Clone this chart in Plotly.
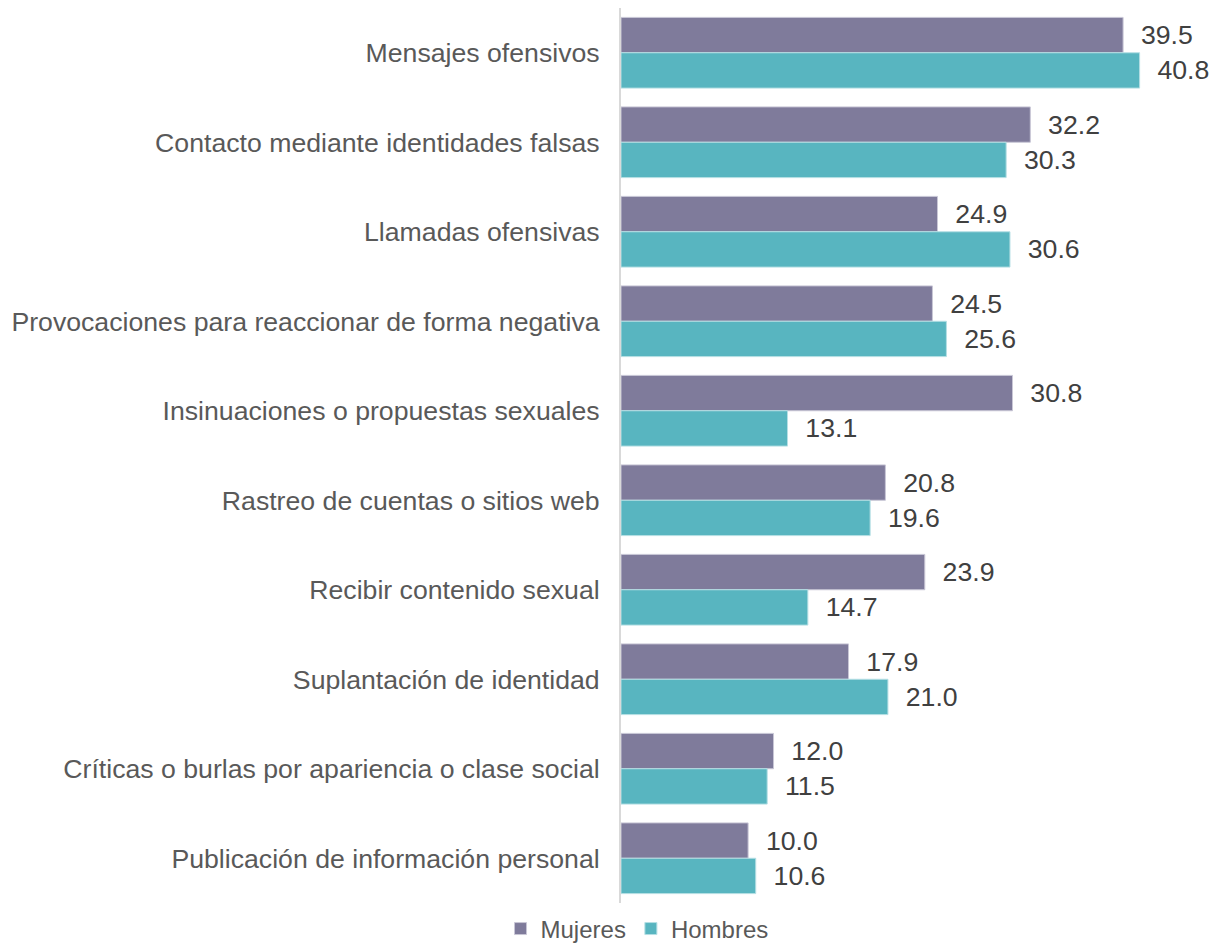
import plotly.graph_objects as go

categories = [
    "Mensajes ofensivos",
    "Contacto mediante identidades falsas",
    "Llamadas ofensivas",
    "Provocaciones para reaccionar de forma negativa",
    "Insinuaciones o propuestas sexuales",
    "Rastreo de cuentas o sitios web",
    "Recibir contenido sexual",
    "Suplantación de identidad",
    "Críticas o burlas por apariencia o clase social",
    "Publicación de información personal",
]
mujeres = [39.5, 32.2, 24.9, 24.5, 30.8, 20.8, 23.9, 17.9, 12.0, 10.0]
hombres = [40.8, 30.3, 30.6, 25.6, 13.1, 19.6, 14.7, 21.0, 11.5, 10.6]

FONT = "Liberation Sans, Arial, sans-serif"
TXT = "#404040"
LBL = "#595959"

fig = go.Figure()
fig.add_trace(go.Bar(
    y=categories, x=mujeres, name="Mujeres", orientation="h",
    marker=dict(color="#7F7B9B", line=dict(color="#C9C7D6", width=1)),
    texttemplate="  %{x:.1f}", textposition="outside", constraintext="none",
    textfont=dict(family=FONT, size=26.67, color=TXT), cliponaxis=False,
))
fig.add_trace(go.Bar(
    y=categories, x=hombres, name="Hombres", orientation="h",
    marker=dict(color="#58B5C0", line=dict(color="#B5DFE4", width=1)),
    texttemplate="  %{x:.1f}", textposition="outside", constraintext="none",
    textfont=dict(family=FONT, size=26.67, color=TXT), cliponaxis=False,
))

# page body has an 8px margin, so the figure is sized to fit the window
fig.update_layout(
    width=1210, height=937,
    margin=dict(l=613, r=25, t=0, b=42, autoexpand=False),
    paper_bgcolor="white", plot_bgcolor="white",
    barmode="group", bargap=0.21, bargroupgap=0.0,
    font=dict(family=FONT, size=26.67, color=TXT),
    showlegend=True,
    legend=dict(
        orientation="h", x=0.028, xanchor="center", y=-0.029, yanchor="middle",
        font=dict(family=FONT, size=24, color=LBL),
        traceorder="normal", itemwidth=30,
    ),
    xaxis=dict(range=[0, 45], showgrid=False, showticklabels=False,
               zeroline=False, showline=False, automargin=False),
    yaxis=dict(autorange="reversed", showgrid=False, zeroline=False,
               showline=True, linecolor="#D9D9D9", linewidth=2,
               ticks="", ticklabelstandoff=14, automargin=False,
               tickfont=dict(family=FONT, size=26.67, color=LBL)),
)

fig.write_html("out.html")
